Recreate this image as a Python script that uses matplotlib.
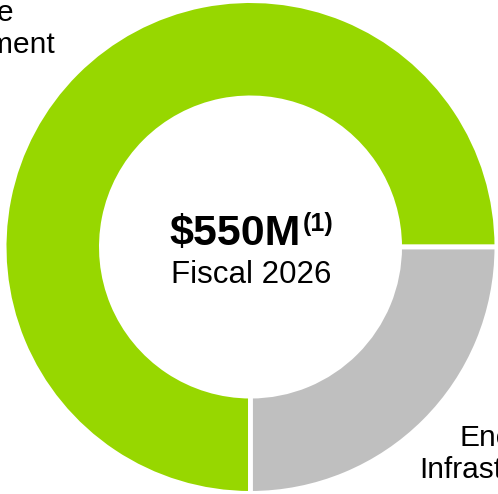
import matplotlib
matplotlib.use("Agg")
import matplotlib.pyplot as plt

# Data
segments = ["Core\nInvestment", "Energy\nInfrastructure"]
shares = [75, 25]
colors = ["#97D700", "#BFBFBF"]
total_label = "$550M"
total_note = "(1)"
period_label = "Fiscal 2026"

W, H, DPI = 498, 494, 100
fig = plt.figure(figsize=(W / DPI, H / DPI), dpi=DPI)
ax = fig.add_axes([0, 0, 1, 1])
ax.axis("off")

cx_px, cy_px = 250.5, 247.0
lw_pt = 3.5
lw_px = lw_pt * DPI / 72
r_out = 244 + lw_px / 2
r_in = 151.5 - lw_px / 2

ax.pie(shares, colors=colors, startangle=0, counterclock=True, radius=r_out,
       wedgeprops=dict(width=r_out - r_in, edgecolor="white", linewidth=lw_pt))
ax.set_xlim(-cx_px, W - cx_px)
ax.set_ylim(-(H - cy_px), cy_px)
ax.set_aspect("equal")

font = ["Liberation Sans", "DejaVu Sans"]

def px(x, y):
    # pixel (from top-left) -> data coords
    return x - cx_px, cy_px - y

# center text
ax.text(*px(169, 245), total_label, ha="left", va="baseline",
        fontsize=31, fontweight="bold", family=font, color="black")
ax.text(*px(303, 231), total_note, ha="left", va="baseline",
        fontsize=18, fontweight="bold", family=font, color="black")
ax.text(*px(251, 283), period_label, ha="center", va="baseline",
        fontsize=22.5, family=font, color="black")

# segment labels
lab_fs = 21.5
ax.text(*px(-18, 53), segments[0], ha="center", va="baseline", fontsize=lab_fs,
        family=font, linespacing=1.2, multialignment="center")
ax.text(*px(507, 478), segments[1], ha="center", va="baseline", fontsize=lab_fs,
        family=font, linespacing=1.2, multialignment="center")

fig.savefig("out.png", dpi=DPI)
